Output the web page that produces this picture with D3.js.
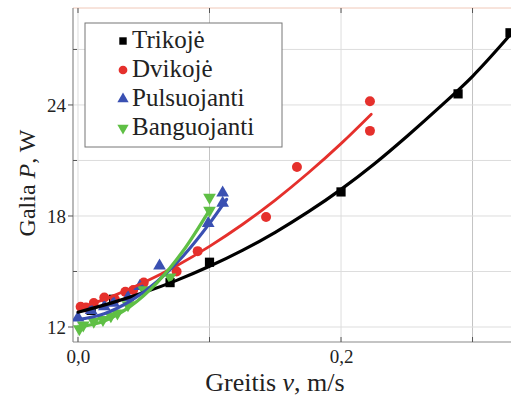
<!DOCTYPE html>
<html>
<meta charset="utf-8"/>
<head>
  <style>
    body { margin: 0; background: #fff; }
    svg text { font-family: "Liberation Serif", "Times New Roman", serif; }
  </style>
</head>
<body>
<svg width="511" height="397"></svg>
<script src="https://d3js.org/d3.v7.min.js"></script>
<script>
// series names and colours
var seriesNames = ["Trikojė", "Dvikojė", "Pulsuojanti", "Banguojanti"];
var seriesColors = ["#000000", "#e5302c", "#3a50b2", "#5fbf45"];
var seriesSymbols = ["square", "circle", "triangle", "triangleDown"];

// measured points [v, P]
var trikojePts = [[0.010, 12.9], [0.027, 13.5], [0.070, 14.4], [0.100, 15.5], [0.200, 19.3], [0.289, 24.6], [0.3285, 27.9]];
var dvikojePts = [[0.002, 13.1], [0.006, 13.05], [0.012, 13.3], [0.020, 13.6], [0.028, 13.5], [0.036, 13.9], [0.042, 14.0],
                  [0.050, 14.4], [0.075, 15.0], [0.091, 16.1], [0.143, 17.95], [0.1665, 20.65], [0.222, 22.6], [0.222, 24.2]];
var pulsPts = [[0.000, 12.5], [0.010, 12.9], [0.020, 13.1], [0.027, 13.3], [0.038, 13.6], [0.047, 14.2], [0.062, 15.3],
               [0.099, 17.6], [0.110, 18.7], [0.110, 19.25]];
var bangPts = [[0.001, 11.9], [0.004, 12.1], [0.012, 12.3], [0.019, 12.4], [0.025, 12.6], [0.030, 12.75], [0.038, 13.2],
               [0.050, 14.0], [0.070, 14.7], [0.100, 18.3], [0.100, 19.0]];

// fitted curves
var trikojeFit = [[0, 12.8], [0.025, 13.29], [0.05, 13.86], [0.075, 14.52], [0.1, 15.28], [0.125, 16.14], [0.15, 17.12],
                  [0.175, 18.22], [0.2, 19.44], [0.225, 20.8], [0.25, 22.3], [0.275, 23.88], [0.3, 25.55], [0.33, 27.9]];
var dvikojeFit = [[0, 13.0], [0.025, 13.63], [0.05, 14.4], [0.075, 15.31], [0.1, 16.36], [0.125, 17.54], [0.15, 18.86],
                  [0.175, 20.32], [0.2, 21.91], [0.223, 23.5]];
var pulsFit = [[0, 12.4], [0.02, 12.72], [0.04, 13.41], [0.06, 14.45], [0.08, 15.84], [0.1, 17.6], [0.113, 18.9]];
var bangFit = [[0, 12.0], [0.02, 12.33], [0.04, 13.13], [0.06, 14.39], [0.08, 16.12], [0.1, 18.32]];

var xTicks = [0, 0.1, 0.2, 0.3];
var xLabels = ["0,0", "", "0,2", ""];
var yTicks = [12, 15, 18, 21, 24, 27];
var yLabels = ["12", "", "18", "", "24", ""];

var allPts = [trikojePts, dvikojePts, pulsPts, bangPts];
var allFits = [trikojeFit, dvikojeFit, pulsFit, bangFit];

var FONT = "'Liberation Serif', 'Times New Roman', serif";
var svg = d3.select("svg");
var pLeft = 73, pTop = 8, pBottom = 342, pRight = 530;

var x = d3.scaleLinear().domain([-0.0038, 0.3437]).range([pLeft, pRight]);
var y = d3.scaleLinear().domain([11.19, 29.24]).range([pBottom, pTop]);

svg.append("clipPath").attr("id", "clip")
  .append("rect").attr("x", pLeft).attr("y", pTop).attr("width", pRight - pLeft).attr("height", pBottom - pTop);

// grid
var grid = svg.append("g");
grid.selectAll(".gx").data(xTicks).enter().append("line")
  .attr("x1", d => x(d)).attr("x2", d => x(d)).attr("y1", pTop).attr("y2", pBottom)
  .attr("stroke", (d, i) => i % 2 ? "#c4c4c4" : "#dddddd").attr("stroke-width", 1);
grid.selectAll(".gy").data(yTicks).enter().append("line")
  .attr("x1", pLeft).attr("x2", pRight).attr("y1", d => y(d)).attr("y2", d => y(d))
  .attr("stroke", "#dddddd").attr("stroke-width", 1);

// frame
svg.append("line").attr("x1", pLeft).attr("x2", pRight).attr("y1", pTop).attr("y2", pTop)
  .attr("stroke", "#f0c8b8").attr("stroke-width", 1);
svg.append("line").attr("x1", pLeft).attr("x2", pLeft).attr("y1", pTop).attr("y2", pBottom)
  .attr("stroke", "#8a8a8a").attr("stroke-width", 1.2);
svg.append("line").attr("x1", pLeft).attr("x2", pRight).attr("y1", pBottom).attr("y2", pBottom)
  .attr("stroke", "#8a8a8a").attr("stroke-width", 1.2);

// axes
var xAxis = d3.axisBottom(x).tickValues(xTicks).tickSize(0).tickPadding(8)
  .tickFormat((d, i) => xLabels[i]);
var gx = svg.append("g").attr("transform", "translate(0," + pBottom + ")").call(xAxis)
  .attr("font-family", FONT);
gx.select(".domain").remove();
gx.selectAll("text").attr("font-size", 19).attr("fill", "#222");
svg.selectAll(".xtk").data(xTicks).enter().append("line")
  .attr("x1", d => x(d)).attr("x2", d => x(d)).attr("y1", pBottom).attr("y2", pBottom - 5)
  .attr("stroke", "#555");
svg.selectAll(".xtt").data(xTicks).enter().append("line")
  .attr("x1", d => x(d)).attr("x2", d => x(d)).attr("y1", pTop).attr("y2", pTop + 5)
  .attr("stroke", "#555");

var yAxis = d3.axisLeft(y).tickValues(yTicks).tickSize(0).tickPadding(7)
  .tickFormat((d, i) => yLabels[i]);
var gy = svg.append("g").attr("transform", "translate(" + pLeft + ",0)").call(yAxis)
  .attr("font-family", FONT);
gy.select(".domain").remove();
gy.selectAll("text").attr("font-size", 19).attr("fill", "#222");
svg.selectAll(".ytk").data(yTicks).enter().append("line")
  .attr("x1", (d, i) => i % 2 ? pLeft : pLeft - 5).attr("x2", (d, i) => i % 2 ? pLeft + 4 : pLeft)
  .attr("y1", d => y(d)).attr("y2", d => y(d)).attr("stroke", "#555");

// axis titles
var yt = svg.append("text").attr("transform", "translate(35,183) rotate(-90)")
  .attr("text-anchor", "middle").attr("font-size", 24).attr("font-family", FONT).attr("fill", "#222");
yt.append("tspan").text("Galia ");
yt.append("tspan").attr("font-style", "italic").text("P");
yt.append("tspan").text(", W");

var xt = svg.append("text").attr("x", 275).attr("y", 391)
  .attr("text-anchor", "middle").attr("font-size", 26).attr("font-family", FONT).attr("fill", "#222");
xt.append("tspan").text("Greitis ");
xt.append("tspan").attr("font-style", "italic").text("v");
xt.append("tspan").text(", m/s");

// symbols
function symbolPath(kind, size) {
  if (kind === "square") return d3.symbol(d3.symbolSquare, size)();
  if (kind === "circle") return d3.symbol(d3.symbolCircle, size)();
  return d3.symbol(d3.symbolTriangle, size)();
}
function symbolTransform(kind, px, py) {
  return "translate(" + px + "," + py + ")" + (kind === "triangleDown" ? " rotate(180)" : "");
}
var symSize = [85, 78, 70, 70];

var plot = svg.append("g").attr("clip-path", "url(#clip)");
var line = d3.line().x(d => x(d[0])).y(d => y(d[1])).curve(d3.curveMonotoneX);

// points first, fits drawn over
allPts.forEach(function(pts, i) {
  plot.selectAll(".p" + i).data(pts).enter().append("path")
    .attr("d", symbolPath(seriesSymbols[i], symSize[i]))
    .attr("transform", d => symbolTransform(seriesSymbols[i], x(d[0]), y(d[1])))
    .attr("fill", seriesColors[i]);
});
allFits.forEach(function(fit, i) {
  plot.append("path").datum(fit).attr("d", line)
    .attr("fill", "none").attr("stroke", seriesColors[i])
    .attr("stroke-width", i === 1 ? 2.8 : 3.2).attr("stroke-linecap", "round");
});

// legend
var lg = svg.append("g");
lg.append("rect").attr("x", 85).attr("y", 23).attr("width", 197).attr("height", 124)
  .attr("fill", "#fff").attr("stroke", "#777").attr("stroke-width", 1);
seriesNames.forEach(function(name, i) {
  var by = 48 + i * 29;
  lg.append("path").attr("d", symbolPath(seriesSymbols[i], i === 1 ? 60 : 55))
    .attr("transform", symbolTransform(seriesSymbols[i], 123, by - 7))
    .attr("fill", seriesColors[i]);
  lg.append("text").attr("x", 132).attr("y", by).attr("font-size", 25)
    .attr("font-family", FONT).attr("fill", "#222").text(name);
});
</script>
</body>
</html>
